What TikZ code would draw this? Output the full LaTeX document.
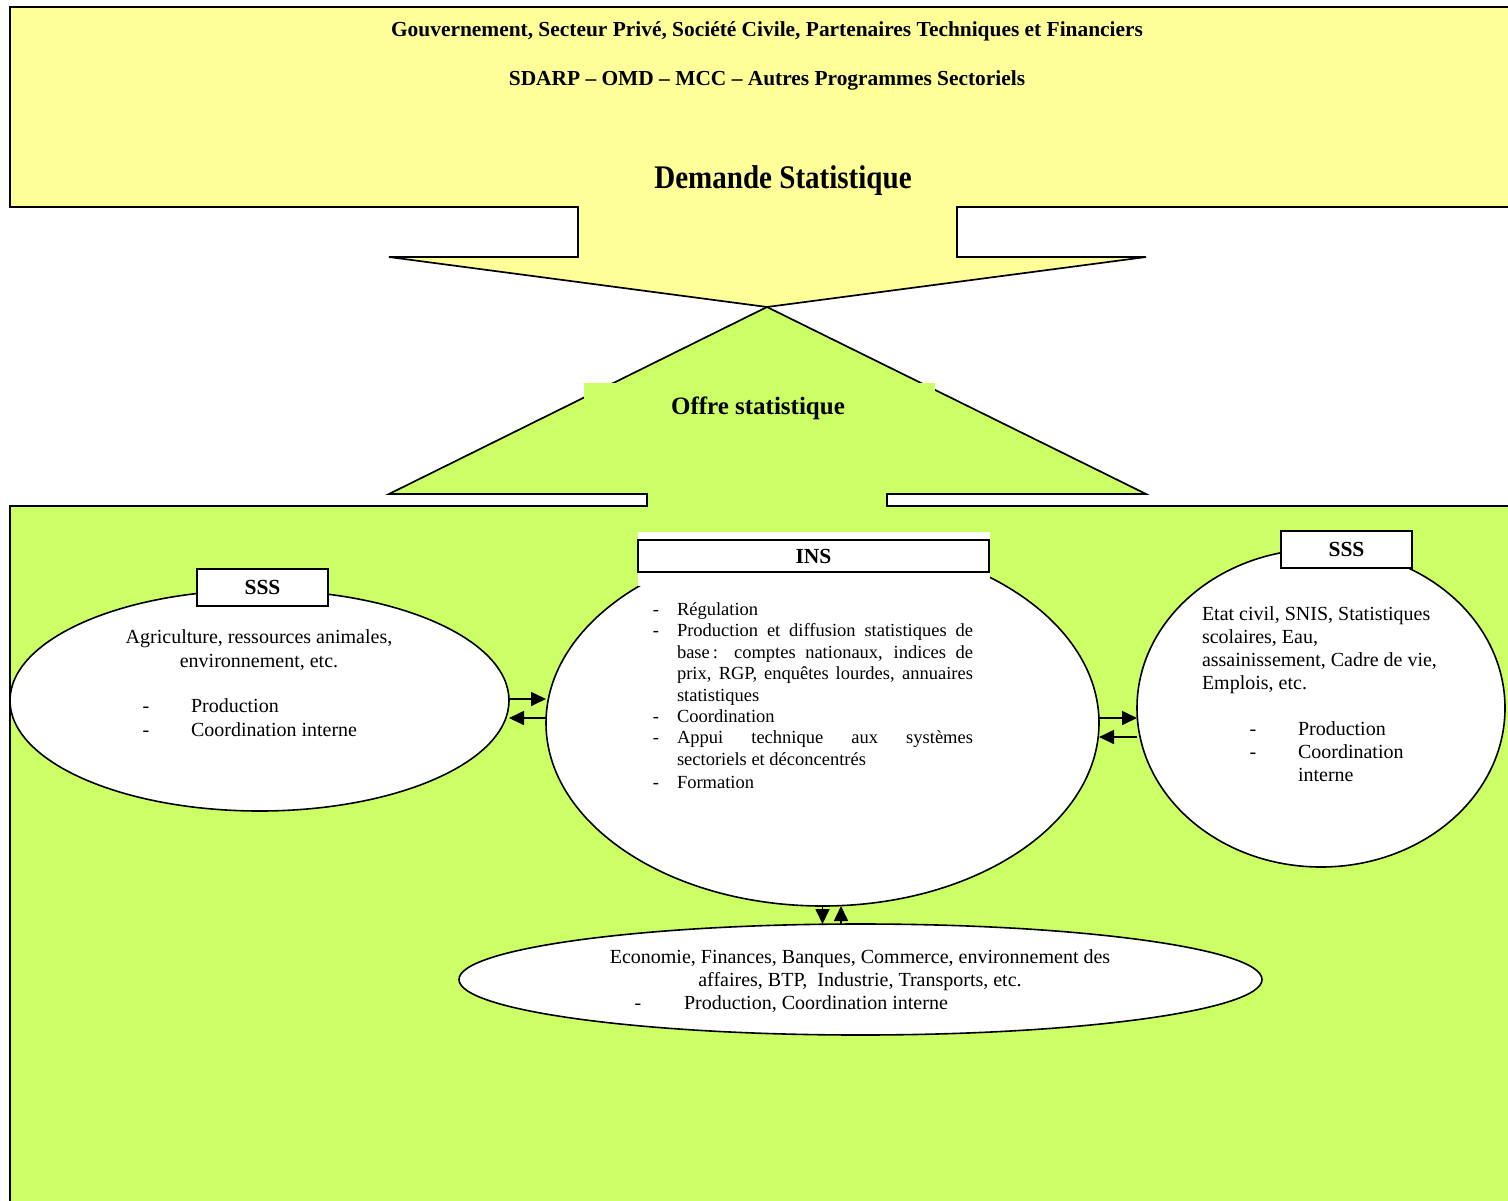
\documentclass[tikz,border=0pt]{standalone}
\usepackage{fontspec}
\usepackage{graphicx}
\setmainfont{Liberation Serif}
\usetikzlibrary{arrows.meta,shapes.geometric,calc}
\definecolor{ylw}{RGB}{255,255,153}
\definecolor{grn}{RGB}{204,255,102}
\begin{document}
\begin{tikzpicture}[x=1pt,y=-1pt, line width=1.6pt, line join=miter,
  ell/.style={draw, ellipse, fill=white, inner sep=0pt, outer sep=0pt},
  lbl/.style={draw, fill=white, inner sep=0pt, outer sep=0pt, font=\fontsize{21.5}{24}\selectfont\bfseries},
  txt/.style={inner sep=0pt, outer sep=0pt, anchor=base, font=\fontsize{20}{24}\selectfont},
  txtl/.style={txt, anchor=base west},
  ins/.style={inner sep=0pt, outer sep=0pt, anchor=base west, font=\fontsize{18.5}{21.5}\selectfont},
  insd/.style={ins, anchor=base},
  bt/.style={inner sep=0pt, outer sep=0pt, anchor=base, font=\fontsize{21.4}{24}\selectfont\bfseries},
  arr/.style={-{Triangle[length=15pt,width=14pt]}, line width=1.7pt}
]
\useasboundingbox (0,0) rectangle (1508,1200);
\clip (0,0) rectangle (1508,1200);
% yellow demand block with down arrow
\fill[ylw] (1515,7) -- (10,7) -- (10,207) -- (578,207) -- (578,257) -- (389,257) -- (767,307) -- (1146,257) -- (957,257) -- (957,207) -- (1515,207) -- cycle;
\draw[line width=1.7pt] (1515,7) -- (10,7) -- (10,207) -- (578,207) -- (578,257) -- (389,257) -- (767,307) -- (1146,257) -- (957,257) -- (957,207) -- (1515,207);
% green supply block with up arrow
\fill[grn] (1515,506) -- (887,506) -- (887,494) -- (1146,494) -- (767,307) -- (389,494) -- (647,494) -- (647,506) -- (10,506) -- (10,1210) -- (1515,1210) -- cycle;
\draw[line width=1.7pt] (1515,506) -- (887,506) -- (887,494) -- (1146,494) -- (767,307) -- (389,494) -- (647,494) -- (647,506) -- (10,506) -- (10,1210);
% texts of demand block
\node[bt] (t1) at (767,36) {Gouvernement, Secteur Privé, Société Civile, Partenaires Techniques et Financiers};
\node[bt] (t2) at (767,85) {SDARP – OMD – MCC – Autres Programmes Sectoriels};
\node[inner sep=0pt, anchor=base] (dem) at (783,188) {\fontsize{33}{36}\selectfont\bfseries\scalebox{0.88}[1]{Demande Statistique}};
% offre label
\node[fill=grn, inner sep=0pt, minimum width=351, minimum height=50, anchor=north west] (offbg) at (583,382) {};
\node[inner sep=0pt, anchor=base, font=\fontsize{25}{28}\selectfont\bfseries] (off) at (758,414) {Offre statistique};
% ellipses
\node[ell, minimum width=499, minimum height=221] (L) at (259.5,700.5) {};
\node[ell, minimum width=553, minimum height=366] (INS) at (822.5,723) {};
\node[ell, minimum width=368, minimum height=318] (R) at (1321,708) {};
\node[ell, minimum width=803, minimum height=111] (B) at (860.5,979.5) {};
% labels
\node[fill=white, inner sep=0pt, minimum width=352, minimum height=54, anchor=north west] (insbg) at (637,531) {};
\node[lbl, minimum width=351, minimum height=32] (insl) at (813.5,556) {INS};
\node[lbl, minimum width=131, minimum height=37] (sssl) at (262.5,587.5) {SSS};
\node[lbl, minimum width=131, minimum height=37] (sssr) at (1346.5,549.5) {SSS};
% left ellipse text
\node[txt] (l1) at (259,643) {Agriculture, ressources animales,};
\node[txt] (l2) at (259,667) {environnement, etc.};
\node[txt] (l3d) at (146,712) {-};
\node[txtl] (l3) at (191,712) {Production};
\node[txt] (l4d) at (146,736) {-};
\node[txtl] (l4) at (191,736) {Coordination interne};
% INS text
\node[insd] (i1d) at (656,615) {-};
\node[ins] (i1) at (677,615) {Régulation};
\node[insd] (i2d) at (656,636) {-};
\node[ins] (i2) at (677,636) {\makebox[296pt][s]{Production et diffusion statistiques de}};
\node[ins] (i3) at (677,658) {\makebox[296pt][s]{base\,: comptes nationaux, indices de}};
\node[ins] (i4) at (677,679) {\makebox[296pt][s]{prix, RGP, enquêtes lourdes, annuaires}};
\node[ins] (i5) at (677,701) {statistiques};
\node[insd] (i6d) at (656,722) {-};
\node[ins] (i6) at (677,722) {Coordination};
\node[insd] (i7d) at (656,743) {-};
\node[ins] (i7) at (677,743) {\makebox[296pt][s]{Appui technique aux systèmes}};
\node[ins] (i8) at (677,765) {sectoriels et déconcentrés};
\node[insd] (i9d) at (656,788) {-};
\node[ins] (i9) at (677,788) {Formation};
% right ellipse text
\node[txtl] (r1) at (1202,620) {Etat civil, SNIS, Statistiques};
\node[txtl] (r2) at (1202,643) {scolaires, Eau,};
\node[txtl] (r3) at (1202,666) {assainissement, Cadre de vie,};
\node[txtl] (r4) at (1202,689) {Emplois, etc.};
\node[txt] (r5d) at (1253,735) {-};
\node[txtl] (r5) at (1298,735) {Production};
\node[txt] (r6d) at (1253,758) {-};
\node[txtl] (r6) at (1298,758) {Coordination};
\node[txtl] (r7) at (1298,781) {interne};
% bottom ellipse text
\node[txt] (b1) at (860,963) {Economie, Finances, Banques, Commerce, environnement des};
\node[txt] (b2) at (860,986) {affaires, BTP,\ \ Industrie, Transports, etc.};
\node[txt] (b3d) at (638,1009) {-};
\node[txtl] (b3) at (684,1009) {Production, Coordination interne};
% arrows
\coordinate (ya) at (0,699);
\coordinate (yb) at (0,718);
\coordinate (yc) at (0,737);
\coordinate (xu) at (841,0);
\draw[arr] (L.east |- ya) -- (INS.west |- ya);
\draw[arr] (INS.west |- yb) -- (L.east |- yb);
\draw[arr] (INS.east |- yb) -- (R.west |- yb);
\draw[arr] (R.west |- yc) -- (INS.east |- yc);
\draw[arr] (INS.south) -- (INS.south |- B.north);
\draw[arr] (xu |- B.north) -- (xu |- INS.south);
\end{tikzpicture}
\end{document}
